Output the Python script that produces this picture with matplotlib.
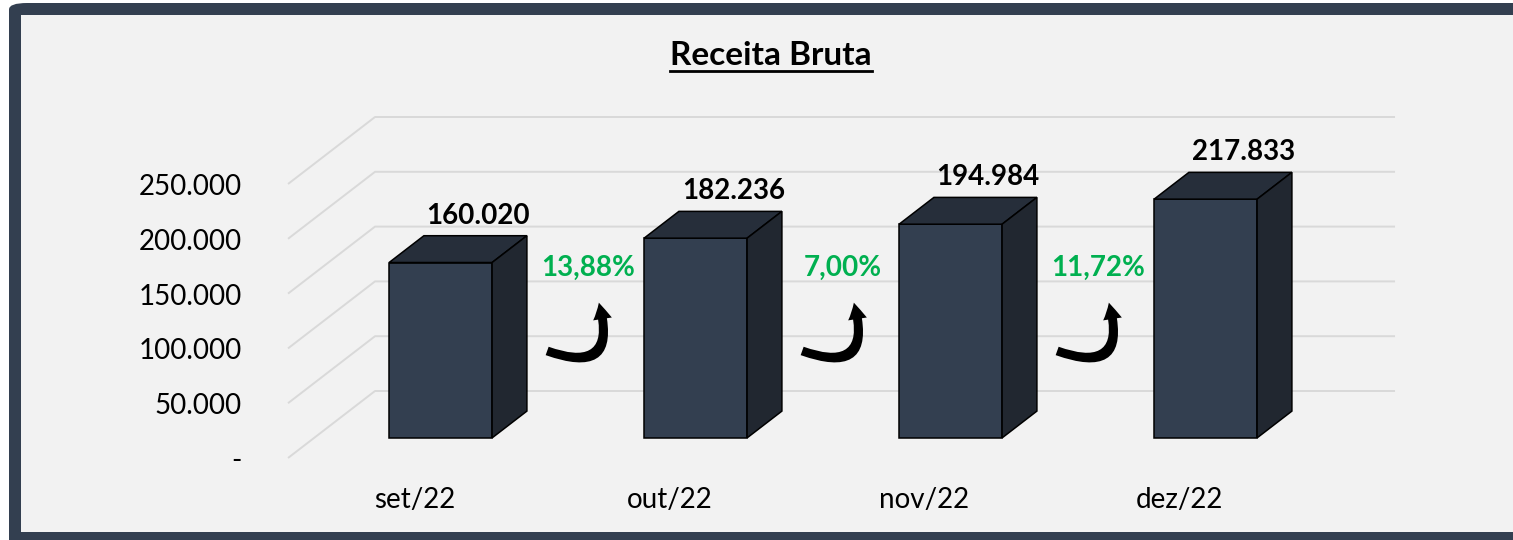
import matplotlib
matplotlib.use('Agg')
import matplotlib.pyplot as plt
from matplotlib.patches import Polygon, FancyBboxPatch, Rectangle, FancyArrowPatch
from matplotlib.lines import Line2D

# dados
meses = ['set/22', 'out/22', 'nov/22', 'dez/22']
receita = [160020, 182236, 194984, 217833]
variacao = ['13,88%', '7,00%', '11,72%']
rotulos_valor = ['160.020', '182.236', '194.984', '217.833']
ticks_y = [0, 50000, 100000, 150000, 200000, 250000]
rotulos_y = ['-', '50.000', '100.000', '150.000', '200.000', '250.000']

plt.rcParams['font.family'] = ['Lato', 'DejaVu Sans']

W_PX, H_PX = 1513, 540
fig = plt.figure(figsize=(W_PX / 100, H_PX / 100), dpi=100, facecolor='white')

# moldura
fig.add_artist(FancyBboxPatch((9 / W_PX, -0.05), 1.2, (537 / 540) + 0.05,
                              boxstyle='round,pad=0,rounding_size=0.012',
                              transform=fig.transFigure, facecolor='#333F50',
                              edgecolor='none', zorder=-10))
fig.add_artist(Rectangle((21 / W_PX, 8 / 540), 1.2, 517 / 540,
                         transform=fig.transFigure, facecolor='#F2F2F2',
                         edgecolor='none', zorder=-9))

ax = fig.add_axes([0, 0, 1, 1])
ax.set_facecolor('none')
ax.axis('off')

PXV = 50000 / 54.8          # valor por pixel
ax.set_xlim(-414.5 / 255, (W_PX - 414.5) / 255)
ax.set_ylim(-(H_PX - 458) * PXV, 458 * PXV)

DX = 87 / 255               # profundidade total (x)
DY = 67 * PXV               # profundidade total (y)
D0, D1 = 0.3, 0.7           # profundidade das barras
LARG = 103 / 255

# grade em perspectiva
for t in ticks_y:
    ax.plot([-0.496, -0.496 + DX, 3.504 + DX], [t, t + DY, t + DY],
            color='#D9D9D9', lw=1.4, zorder=1, solid_capstyle='butt')

for t, lab in zip(ticks_y, rotulos_y):
    ax.text(-0.6765, t - 3 * PXV, lab, ha='right', va='center', fontsize=20, color='black')

# barras 3D
xs = [i + D0 * DX for i in range(len(meses))]
base = D0 * DY
ax.bar(xs, receita, width=LARG, bottom=base, color='#333F50',
       edgecolor='black', linewidth=1.1, zorder=3)
bdx, bdy = (D1 - D0) * DX, (D1 - D0) * DY
for x, v in zip(xs, receita):
    xl, xr = x - LARG / 2, x + LARG / 2
    top = v + base
    ax.add_patch(Polygon([(xl, top), (xr, top), (xr + bdx, top + bdy), (xl + bdx, top + bdy)],
                         closed=True, facecolor='#262E3A', edgecolor='black', lw=1.1, zorder=3))
    ax.add_patch(Polygon([(xr, base), (xr, top), (xr + bdx, top + bdy), (xr + bdx, base + bdy)],
                         closed=True, facecolor='#212730', edgecolor='black', lw=1.1, zorder=3))

for i, (v, lab) in enumerate(zip(receita, rotulos_valor)):
    ax.text(i + 0.25, v + base + 39 * PXV, lab, ha='center', va='baseline',
            fontsize=20, fontweight='bold', color='black', zorder=5)

for i, lab in enumerate(meses):
    ax.text(i, -42 * PXV, lab, ha='center', va='center', fontsize=20, color='black')

# variacoes
for i, lab in enumerate(variacao):
    ax.text(i + 0.68, 182 * PXV, lab, ha='center', va='baseline',
            fontsize=20, fontweight='bold', color='#00B050', zorder=5)
    seta = FancyArrowPatch((i + 0.51, 108 * PXV), (i + 0.72, 158 * PXV),
                           connectionstyle='arc3,rad=1.0',
                           arrowstyle='simple,head_length=0.75,head_width=0.85,tail_width=0.4',
                           mutation_scale=16, color='black', lw=0, zorder=6)
    ax.add_patch(seta)

# titulo sublinhado
tit = fig.text(771 / W_PX, 1 - 65 / H_PX, 'Receita Bruta', ha='center', va='baseline',
               fontsize=24, fontweight='bold', color='black')
fig.canvas.draw()
bb = tit.get_window_extent()
fig.add_artist(Line2D([bb.x0 / W_PX, bb.x1 / W_PX], [1 - 71 / H_PX] * 2,
                      transform=fig.transFigure, color='black', lw=2))

fig.savefig('out.png', dpi=100, facecolor=fig.get_facecolor())
